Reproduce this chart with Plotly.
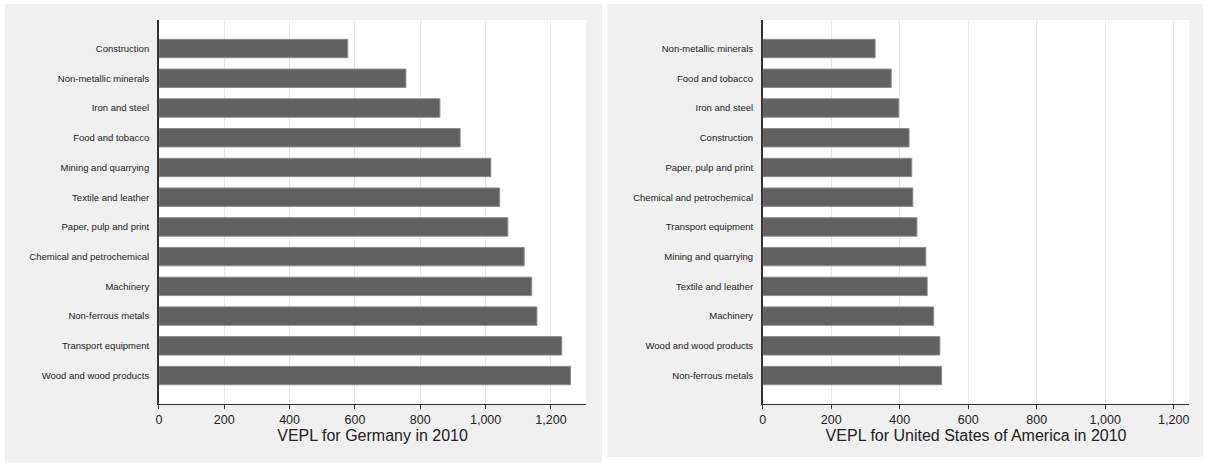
import plotly.graph_objects as go

# Value of electricity per litre (VEPL) by industry, 2010
germany_sectors = [
    "Construction", "Non-metallic minerals", "Iron and steel", "Food and tobacco",
    "Mining and quarrying", "Textile and leather", "Paper, pulp and print",
    "Chemical and petrochemical", "Machinery", "Non-ferrous metals",
    "Transport equipment", "Wood and wood products",
]
germany_vepl = [578, 756, 860, 922, 1016, 1043, 1068, 1118, 1141, 1157, 1233, 1260]

usa_sectors = [
    "Non-metallic minerals", "Food and tobacco", "Iron and steel", "Construction",
    "Paper, pulp and print", "Chemical and petrochemical", "Transport equipment",
    "Mining and quarrying", "Textile and leather", "Machinery",
    "Wood and wood products", "Non-ferrous metals",
]
usa_vepl = [328, 375, 397, 427, 435, 438, 450, 476, 480, 499, 517, 522]

x_ticks = [0, 200, 400, 600, 800, 1000, 1200]

W, H = 1205, 463
FONT = "Liberation Sans, Arial, Helvetica, sans-serif"
BAR_FILL = "#606060"
BAR_EDGE = "#8c8c8c"
AXIS_COL = "#333333"
GRID_COL = "#e6e6e6"
PANEL_BG = "#f0f0f0"


def px_x(v):
    return v / W


def px_y(v):
    return 1 - v / H


fig = go.Figure()

fig.add_trace(go.Bar(
    x=germany_vepl, y=germany_sectors, orientation="h", width=0.62,
    marker=dict(color=BAR_FILL, line=dict(color=BAR_EDGE, width=1)),
    xaxis="x", yaxis="y", showlegend=False,
))
fig.add_trace(go.Bar(
    x=usa_vepl, y=usa_sectors, orientation="h", width=0.62,
    marker=dict(color=BAR_FILL, line=dict(color=BAR_EDGE, width=1)),
    xaxis="x2", yaxis="y2", showlegend=False,
))

y_top, y_bot = 20, 403.5
x_left = (156.3, 584.7)
x_right = (761.7, 1189.3)
y_dom = [px_y(y_bot), px_y(y_top)]

common_x = dict(
    tickvals=x_ticks, tickformat=",d", showgrid=True, gridcolor=GRID_COL, gridwidth=1,
    zeroline=False, showline=True, linecolor=AXIS_COL, linewidth=1.3,
    ticks="outside", ticklen=4, tickcolor=AXIS_COL, tickwidth=1,
    tickfont=dict(family=FONT, size=12.5, color="#222222"),
    title_font=dict(family=FONT, size=16, color="#222222"),
    title_standoff=1, fixedrange=True,
)
common_y = dict(
    type="category", range=[11.94, -0.96], showgrid=False, zeroline=False,
    showline=True, linecolor=AXIS_COL, linewidth=1.6, ticks="",
    tickfont=dict(family=FONT, size=9.5, color="#222222"),
    ticklabelstandoff=6, fixedrange=True,
)


def rect(x0, x1, y0, y1, color):
    return dict(type="rect", xref="paper", yref="paper", layer="below", line_width=0,
                fillcolor=color, x0=px_x(x0), x1=px_x(x1), y0=px_y(y1), y1=px_y(y0))


fig.update_layout(
    width=W, height=H,
    margin=dict(l=0, r=0, t=0, b=0),
    paper_bgcolor="white", plot_bgcolor="white",
    xaxis=dict(domain=[px_x(x_left[0]), px_x(x_left[1])], range=[0, 1308],
               anchor="y", title_text="VEPL for Germany in 2010", **common_x),
    yaxis=dict(domain=y_dom, anchor="x", **common_y),
    xaxis2=dict(domain=[px_x(x_right[0]), px_x(x_right[1])], range=[0, 1245.5],
                anchor="y2", title_text="VEPL for United States of America in 2010", **common_x),
    yaxis2=dict(domain=y_dom, anchor="x2", **common_y),
    shapes=[
        # panel backgrounds
        rect(2, 600.5, 4, 462.5, PANEL_BG),
        rect(606, 1203, 4, 457, PANEL_BG),
        # white plotting regions
        rect(x_left[0], x_left[1], y_top, y_bot, "white"),
        rect(x_right[0], x_right[1], y_top, y_bot, "white"),
    ],
)

fig.write_html("out.html")
